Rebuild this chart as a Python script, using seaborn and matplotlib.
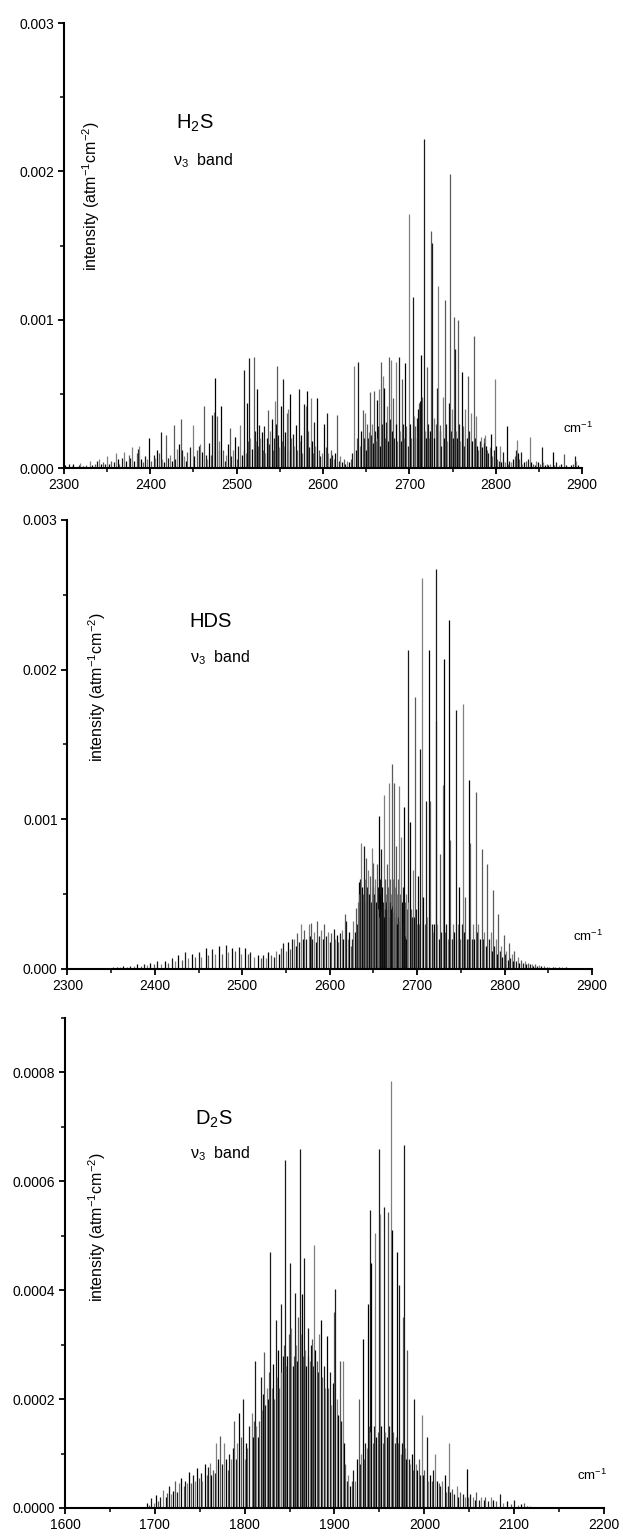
import numpy as np
import pandas as pd
import matplotlib
matplotlib.use("Agg")
import matplotlib.pyplot as plt
import seaborn as sns
from matplotlib.ticker import MultipleLocator, FormatStrFormatter

# ---- line lists (wavenumber cm-1, intensity) ----
# H2S nu3 band, intensity in units of 1e-3 atm-1 cm-2
h2s_nu = [2301, 2304, 2306, 2309, 2311, 2314, 2317, 2319, 2322, 2325, 2328, 2330, 2333, 2336, 2338, 2340,
          2343, 2345, 2348, 2350, 2352, 2355, 2358, 2360, 2362, 2364, 2367, 2370, 2372, 2375, 2377, 2379,
          2381, 2384, 2386, 2387, 2389, 2392, 2394, 2396, 2399, 2401, 2404, 2406, 2408, 2410, 2412, 2414,
          2416, 2418, 2420, 2423, 2425, 2427, 2429, 2431, 2433, 2435, 2437, 2439, 2441, 2443, 2446, 2449,
          2451, 2454, 2456, 2458, 2460, 2462, 2464, 2466, 2468, 2470, 2472, 2474, 2475, 2477, 2479, 2480,
          2482, 2484, 2486, 2488, 2490, 2492, 2494, 2496, 2498, 2500, 2502, 2504, 2506, 2508, 2509, 2511,
          2512, 2513, 2514.6, 2516, 2518, 2520, 2521, 2522, 2523.5, 2525, 2526, 2527, 2529, 2530, 2532, 2533,
          2535, 2536.5, 2538, 2539, 2541, 2542, 2543, 2544.6, 2545.5, 2547, 2548, 2549, 2551, 2552, 2553.5,
          2555, 2556, 2558, 2559, 2560, 2562, 2563, 2565, 2566, 2568.5, 2570, 2572, 2573, 2575, 2576, 2578,
          2580, 2582, 2583, 2584, 2586, 2587, 2588, 2590, 2591, 2593.5, 2595, 2597, 2599, 2601.5, 2603, 2605,
          2606, 2608, 2609, 2611, 2613, 2614, 2616, 2618, 2620, 2622, 2624, 2626, 2628, 2630, 2632, 2634,
          2636, 2638, 2639, 2641, 2643, 2644, 2646, 2647, 2648.5, 2650, 2651, 2652, 2653, 2654, 2655, 2656,
          2657, 2658, 2659, 2660, 2661, 2662, 2663, 2664, 2665, 2666, 2667, 2668, 2669.6, 2671, 2672, 2673,
          2674, 2675, 2676.5, 2677.5, 2678.5, 2680, 2681.5, 2682.5, 2684, 2685, 2686, 2687.7, 2689, 2690,
          2691.8, 2693, 2694, 2695, 2696.5, 2698, 2699.5, 2701, 2702, 2703.8, 2705, 2706, 2707, 2708.4,
          2709.5, 2710.5, 2711.5, 2712.5, 2713, 2714, 2715, 2716.7, 2718, 2719, 2720.5, 2722, 2723, 2724,
          2725.5, 2726.6, 2728, 2729, 2730.5, 2731.5, 2733.5, 2735, 2736, 2737, 2739, 2740.5, 2741.6, 2743,
          2744, 2745.5, 2746.6, 2748, 2749, 2750, 2751.6, 2752.6, 2754, 2755, 2756.2, 2757.5, 2759, 2760.8,
          2762, 2763, 2765, 2766.5, 2768, 2769.5, 2771, 2772.5, 2774.6, 2776, 2777, 2778.5, 2780, 2781.5,
          2783, 2784.5, 2786, 2787, 2788, 2789, 2790, 2791.5, 2793, 2794.6, 2796, 2797.5, 2799, 2800.5, 2802,
          2803.5, 2805, 2806.5, 2808, 2809, 2811, 2812.7, 2814, 2816, 2818, 2820, 2822, 2823.5, 2824.6, 2826,
          2827.5, 2829, 2831, 2833, 2835, 2837, 2839.3, 2841, 2843, 2845, 2847, 2849, 2851, 2853.6, 2855,
          2857, 2859, 2861, 2863, 2866, 2868, 2870, 2873, 2876, 2879, 2881, 2884, 2887, 2889, 2892, 2893,
          2895, 2898]
h2s_int = [.02, .01, .03, .015, .03, .01, .02, .035, .015, .02, .01, .045, .02, .03, .05, .06,
           .025, .04, .03, .08, .03, .05, .04, .10, .06, .03, .07, .11, .05, .09, .07, .14,
           .05, .10, .13, .15, .06, .04, .08, .06, .20, .05, .09, .07, .12, .10, .24, .06,
           .04, .22, .07, .09, .05, .29, .06, .13, .16, .33, .12, .08, .05, .11, .14, .29,
           .08, .12, .15, .16, .11, .42, .09, .06, .17, .09, .36, .38, .61, .35, .12, .18,
           .42, .12, .05, .09, .16, .27, .08, .12, .21, .06, .15, .29, .09, .12, .66, .10,
           .44, .18, .74, .20, .13, .75, .25, .18, .53, .15, .29, .20, .24, .12, .28, .10,
           .20, .39, .16, .25, .33, .12, .20, .45, .30, .69, .22, .14, .42, .18, .60,
           .15, .24, .37, .12, .40, .50, .20, .23, .15, .29, .12, .53, .18, .22, .10, .43,
           .42, .52, .25, .14, .47, .18, .10, .31, .15, .47, .12, .08, .10, .30, .14, .37,
           .10, .07, .12, .09, .06, .10, .36, .05, .08, .04, .06, .03, .05, .04, .06, .10,
           .69, .12, .20, .715, .15, .25, .39, .20, .37, .12, .30, .20, .24, .15, .51, .22,
           .30, .17, .52, .25, .18, .46, .20, .28, .53, .15, .715, .30, .62, .54, .20, .31,
           .42, .18, .75, .33, .73, .25, .47, .20, .715, .30, .18, .746, .25, .18,
           .60, .30, .20, .71, .28, .15, 1.71, .30, .20, 1.15, .35, .20, .28, .34,
           .25, .40, .44, .45, .30, .76, .48, 2.22, .25, .20, .68, .30, .20, .25,
           1.60, 1.52, .34, .20, .30, .54, 1.23, .25, .29, .15, .48, .20, 1.13, .30,
           .18, .44, 1.98, .25, .40, .20, 1.02, .80, .25, .20, 1.00, .30, .18, .65,
           .28, .15, .40, .20, .62, .25, .37, .18, .89, .20, .35, .15, .12, .18,
           .21, .14, .20, .17, .22, .15, .12, .10, .14, .23, .08, .12, .60, .15, .06,
           .05, .15, .04, .05, .11, .04, .28, .03, .05, .04, .06, .08, .12, .19, .10,
           .06, .11, .03, .04, .05, .06, .21, .04, .03, .02, .05, .04, .03, .14, .04,
           .02, .03, .02, .03, .11, .02, .04, .02, .03, .095, .02, .01, .02, .03, .08, .05,
           .02, .01]

# HDS nu3 band, intensity in units of 1e-3 atm-1 cm-2
hds_nu = [2302, 2306, 2310, 2314, 2318, 2322, 2326, 2330, 2334, 2337, 2341, 2345, 2349, 2352, 2356.5, 2360,
          2364, 2368, 2372, 2376, 2380, 2384, 2388, 2391, 2395, 2399, 2403, 2407, 2412, 2415, 2419.5, 2423,
          2427, 2431, 2435, 2438, 2442, 2446, 2450, 2453, 2458, 2461, 2465, 2469, 2473, 2477, 2481, 2484,
          2488, 2492, 2496, 2499, 2503, 2506, 2509, 2513, 2518, 2521, 2524, 2527, 2530, 2533, 2536, 2539,
          2542, 2544, 2547, 2550, 2552, 2555, 2557, 2559, 2561, 2563, 2565, 2567, 2569, 2571, 2573, 2576,
          2577.5, 2578.6, 2580, 2582, 2584, 2586, 2588, 2590, 2592, 2594, 2596, 2598, 2600, 2602, 2604.5, 2606,
          2608, 2610, 2612, 2613.6, 2615, 2617, 2619, 2620.5, 2622, 2624, 2626, 2627, 2628.5, 2630, 2631, 2632,
          2633, 2634, 2635, 2636, 2637, 2638, 2639, 2640, 2641, 2642, 2643, 2644, 2645, 2646, 2647, 2648,
          2649, 2650, 2651, 2652, 2653, 2654, 2655, 2655.5, 2656, 2656.5, 2657, 2657.5, 2658, 2658.5, 2659,
          2659.5, 2660, 2660.5, 2661, 2661.8, 2662.5, 2663, 2663.5, 2664, 2664.5, 2665, 2665.5, 2666, 2666.5,
          2667, 2667.5, 2668, 2668.5, 2669, 2669.5, 2670, 2670.5, 2671.4, 2671.8, 2672.5, 2673, 2673.7, 2674.5,
          2675, 2675.5, 2676, 2676.5, 2677, 2677.5, 2678, 2678.5, 2679.4, 2680, 2680.5, 2681, 2682, 2683,
          2683.5, 2684, 2684.5, 2685, 2686, 2686.5, 2687, 2687.5, 2688, 2689, 2690, 2691.6, 2693, 2694, 2695,
          2696, 2697.3, 2698.5, 2700, 2701, 2702, 2703.8, 2705.7, 2707, 2708.5, 2710.3, 2711.5, 2713.4,
          2715.3, 2716.5, 2718, 2719.5, 2721.4, 2721.8, 2723, 2724.5, 2726, 2727.5, 2729.8, 2730.2, 2732,
          2733.5, 2735, 2737, 2738, 2739.5, 2741, 2742.5, 2744, 2745, 2746.5, 2748, 2749.5, 2751, 2752.3,
          2753.5, 2755, 2756.5, 2758, 2759.5, 2761, 2762.5, 2764, 2765.5, 2766.8, 2768, 2770, 2771.5, 2773.7,
          2775, 2777, 2778.5, 2780.5, 2782, 2784, 2785.5, 2787, 2788.5, 2790, 2791.5, 2793, 2794.5, 2796,
          2797.5, 2799, 2800.5, 2802, 2803.5, 2805, 2806.5, 2808, 2809.5, 2811, 2813, 2815, 2817, 2819, 2821,
          2823, 2825, 2827, 2829, 2831, 2833, 2835, 2837, 2839, 2842, 2845, 2848, 2851, 2855, 2858, 2862,
          2866, 2870, 2874, 2878, 2882, 2886, 2890, 2894, 2898]
hds_int = [.004, .003, .005, .004, .005, .006, .005, .006, .007, .007, .008, .008, .009, .010, .013, .011,
           .018, .015, .020, .018, .030, .022, .030, .026, .040, .030, .050, .035, .055, .040, .070, .050,
           .090, .060, .110, .070, .100, .080, .110, .080, .140, .090, .130, .100, .150, .100, .160, .110,
           .140, .120, .145, .100, .140, .100, .110, .080, .090, .070, .090, .070, .110, .090, .080, .120,
           .100, .140, .170, .120, .180, .130, .200, .200, .150, .240, .180, .300, .200, .260, .200, .300,
           .220, .310, .200, .250, .180, .320, .220, .260, .200, .300, .220, .250, .180, .240, .270, .200,
           .230, .180, .240, .260, .200, .370, .320, .200, .250, .150, .200, .320, .250, .410, .300, .450,
           .580, .500, .600, .840, .550, .500, .820, .600, .450, .740, .550, .660, .500, .620, .450, .810,
           .550, .710, .500, .600, .450, .700, .550, .400, 1.02, .350, .600, .450, .500, .400, .800,
           .380, .550, .420, .450, 1.16, .350, .600, .400, .500, .450, .700, .380, .450, .400,
           .550, .420, 1.24, .350, .600, .450, .500, .400, 1.37, .420, .600, .380, 1.24, .400,
           .550, .350, .820, .380, .500, .300, .600, .350, 1.22, .320, .500, .280, .880, .450,
           .300, .550, .250, 1.08, .450, .220, .500, .200, .400, 2.13, .450, .980, .400, .350, .660,
           .350, 1.82, .400, .300, .620, .300, 1.47, 2.61, .480, .300, 1.12, .350, 2.13,
           1.12, .300, .250, .300, 1.66, 2.67, .300, .200, .770, .250, 1.23, 2.07, .250,
           .300, .200, 2.33, .860, .200, .300, .250, .200, 1.73, .300, .550, .200, .300, 1.77,
           .250, .480, .200, .200, 1.26, .840, .200, .300, .200, 1.18, .250, .300, .200, .800,
           .200, .250, .150, .700, .200, .250, .120, .530, .150, .200, .100, .370, .120, .150,
           .080, .230, .100, .120, .060, .170, .070, .100, .050, .120, .050, .080, .040, .060, .040,
           .050, .030, .040, .030, .035, .020, .030, .020, .025, .020, .020, .015, .012, .015, .010, .012,
           .010, .010, .008, .008, .006, .006, .005, .004, .003]

# D2S nu3 band, intensity in units of 1e-4 atm-1 cm-2
d2s_nu = [1691, 1694, 1696, 1699, 1701.6, 1704, 1706, 1709.6, 1712, 1714, 1716, 1718, 1720, 1723, 1725, 1727,
          1729.6, 1732, 1734, 1736, 1738, 1740, 1742, 1745, 1747, 1749, 1751, 1753, 1756, 1758, 1759.5, 1761.5,
          1763, 1765, 1766.5, 1768.6, 1770.5, 1772.6, 1775, 1777.5, 1779.5, 1781, 1783, 1785, 1787, 1788.6,
          1790.5, 1792, 1794, 1796, 1798, 1800, 1801.5, 1803, 1805, 1807.7, 1809, 1810, 1811.7, 1813, 1814.5,
          1816, 1818, 1819.5, 1820.5, 1822, 1823, 1824.5, 1826, 1827, 1828.6, 1830, 1831.6, 1833, 1835, 1836,
          1837.5, 1838.5, 1840, 1841, 1842.5, 1843.5, 1845, 1846, 1847.5, 1849, 1850.7, 1852, 1853.5, 1854.5,
          1856, 1857.5, 1858.5, 1859.6, 1861.4, 1862.5, 1863.6, 1865, 1866, 1867.5, 1868.5, 1870, 1871, 1872.5,
          1874, 1874.7, 1876, 1877.4, 1878.5, 1880, 1881.5, 1883, 1885, 1886.5, 1888, 1889.5, 1891.6, 1893,
          1894.5, 1896, 1898, 1899.6, 1901, 1902.5, 1904, 1906, 1907.5, 1909, 1910.5, 1912, 1913.5, 1915, 1917,
          1919, 1921, 1923, 1925, 1927, 1928.5, 1930, 1931.5, 1933, 1934.5, 1936, 1937, 1938, 1939, 1940, 1941,
          1942.5, 1943.5, 1945, 1946.5, 1948, 1949, 1950.5, 1952, 1953.5, 1955, 1956.5, 1958, 1959.5, 1961,
          1962.6, 1964, 1965.5, 1967, 1968.5, 1970, 1971, 1972, 1973.5, 1975, 1976, 1977, 1978.5, 1980, 1981,
          1982.5, 1984, 1986, 1987.5, 1989, 1990.5, 1992, 1994, 1995.5, 1997, 1998.5, 2000, 2002.5, 2004, 2006,
          2008, 2010, 2012, 2014, 2016, 2018, 2020, 2022.5, 2024, 2026, 2027, 2029, 2031, 2033, 2036, 2038,
          2040, 2043, 2045, 2047, 2049, 2051, 2054, 2056, 2058, 2061, 2063, 2066, 2068, 2071, 2074, 2077,
          2080, 2084.6, 2088, 2092, 2096, 2100, 2104, 2108, 2111, 2114, 2118]
d2s_int = [.09, .05, .18, .10, .23, .12, .20, .33, .20, .28, .40, .25, .32, .50, .30, .45,
           .55, .40, .50, .45, .66, .45, .60, .50, .73, .55, .65, .50, .80, .60, .75, .83,
           .60, .70, .65, 1.20, .90, 1.33, .80, 1.20, .90, .70, 1.00, .90, 1.10, 1.60,
           .90, 1.20, 1.75, 1.30, 2.00, .90, 1.20, 1.10, 1.50, 1.75, 1.30, 1.60, 2.70, 1.50, 1.30,
           1.60, 2.40, 1.80, 2.10, 2.87, 1.90, 2.20, 2.00, 2.50, 4.70, 2.20, 2.64, 2.00, 3.45, 2.40,
           2.90, 2.20, 3.75, 2.50, 2.80, 3.00, 6.40, 2.60, 2.80, 3.20, 4.50, 3.30, 2.60, 2.80,
           3.95, 3.00, 2.70, 3.50, 6.60, 3.20, 3.93, 2.80, 4.60, 2.90, 2.60, 2.80, 3.30, 2.70,
           3.00, 3.10, 2.60, 4.83, 2.90, 2.70, 2.50, 3.20, 3.45, 2.40, 2.60, 2.20, 3.16, 2.20,
           2.50, 1.90, 2.30, 3.60, 4.02, 2.00, 1.70, 2.70, 1.60, 2.70, 1.20, .80, .50, .60, .40,
           .50, .70, .50, .90, 2.00, .80, 1.00, 3.10, .90, 1.20, 1.10, 3.75, 1.50, 5.47, 1.40, 4.50,
           1.20, 1.50, 5.05, 1.30, 1.40, 6.60, 5.40, 1.50, 1.20, 5.52, 1.40, 1.30, 5.43, 1.50,
           7.85, 5.10, 1.40, 1.20, 1.30, 4.70, 1.20, 4.10, 1.00, 1.20, 3.50, 6.66, 1.10, .90, 2.90,
           .90, .80, 1.00, .70, 2.00, .80, .70, .90, .60, 1.70, .60, .70, 1.30, .50, .60,
           .50, .70, 1.00, .50, .45, .40, .50, .60, .30, .40, 1.20, .30, .35, .25, .40, .20,
           .30, .25, .20, .72, .20, .25, .20, .15, .30, .15, .20, .15, .20, .12, .20, .15,
           .12, .25, .10, .12, .08, .15, .06, .08, .10, .03, .03]

panels = [
    dict(name="H$_2$S", nu=h2s_nu, inten=h2s_int, scale=1e-3, xlim=(2300, 2900), ylim=(0, 0.003),
         ymajor=0.001, yminor=0.0005, fmt="%.3f",
         rect=[0.1027, 0.6955, 0.8315, 0.2895],
         name_xy=(2430, 0.00229), band_xy=(2426, 0.00204), ylab_xy=(2332, 0.00183), cm_xy=(2878, 0.00027)),
    dict(name="HDS", nu=hds_nu, inten=hds_int, scale=1e-3, xlim=(2300, 2900), ylim=(0, 0.003),
         ymajor=0.001, yminor=0.0005, fmt="%.3f",
         rect=[0.1082, 0.3696, 0.8420, 0.2921],
         name_xy=(2440, 0.002285), band_xy=(2440, 0.00205), ylab_xy=(2334, 0.00188), cm_xy=(2878, 0.000214)),
    dict(name="D$_2$S", nu=d2s_nu, inten=d2s_int, scale=1e-4, xlim=(1600, 2200), ylim=(0, 0.0009),
         ymajor=0.0002, yminor=0.0001, fmt="%.4f",
         rect=[0.1043, 0.01887, 0.8652, 0.3188],
         name_xy=(1745, 0.000704), band_xy=(1739, 0.000642), ylab_xy=(1636, 0.000515), cm_xy=(2170, 0.0000607)),
]

sns.set_theme(style="ticks", rc={"axes.edgecolor": "black", "xtick.color": "black", "ytick.color": "black",
                                  "text.color": "black", "axes.labelcolor": "black"})
plt.rcParams['font.family'] = ['Liberation Sans', 'DejaVu Sans']
plt.rcParams['mathtext.fontset'] = 'custom'
plt.rcParams['mathtext.rm'] = 'Liberation Sans'
plt.rcParams['mathtext.default'] = 'regular'

fig = plt.figure(figsize=(6.23, 15.37), dpi=100)
stick_colors = ['#000000', '#5a5a5a', '#1a1a1a', '#808080']

for p in panels:
    ax = fig.add_axes(p["rect"])
    df = pd.DataFrame({"nu": p["nu"], "intensity": np.array(p["inten"]) * p["scale"]})
    cols = [stick_colors[i % len(stick_colors)] for i in range(len(df))]
    ax.vlines(df["nu"], 0, df["intensity"], colors=cols, linewidth=0.9)

    ax.set_xlim(*p["xlim"])
    ax.set_ylim(*p["ylim"])
    ax.xaxis.set_major_locator(MultipleLocator(100))
    ax.xaxis.set_minor_locator(MultipleLocator(50))
    ax.yaxis.set_major_locator(MultipleLocator(p["ymajor"]))
    ax.yaxis.set_minor_locator(MultipleLocator(p["yminor"]))
    ax.yaxis.set_major_formatter(FormatStrFormatter(p["fmt"]))
    ax.tick_params(which="major", direction="out", length=4.5, width=1.3, labelsize=10, pad=2.5)
    ax.tick_params(which="minor", direction="out", length=3, width=1.1)
    sns.despine(ax=ax)
    for s in ["left", "bottom"]:
        ax.spines[s].set_linewidth(1.5)
    ax.set_xlabel("")
    ax.set_ylabel("")

    ax.text(*p["name_xy"], p["name"], fontsize=14.5, ha="left", va="baseline")
    ax.text(*p["band_xy"], "ν$_3$  band", fontsize=11.5, ha="left", va="baseline")
    ax.text(*p["ylab_xy"], "intensity (atm$^{-1}$cm$^{-2}$)", fontsize=11.5, rotation=90,
            ha="center", va="center")
    ax.text(*p["cm_xy"], "cm$^{-1}$", fontsize=9.5, ha="left", va="center")

fig.savefig("out.png", dpi=100)
